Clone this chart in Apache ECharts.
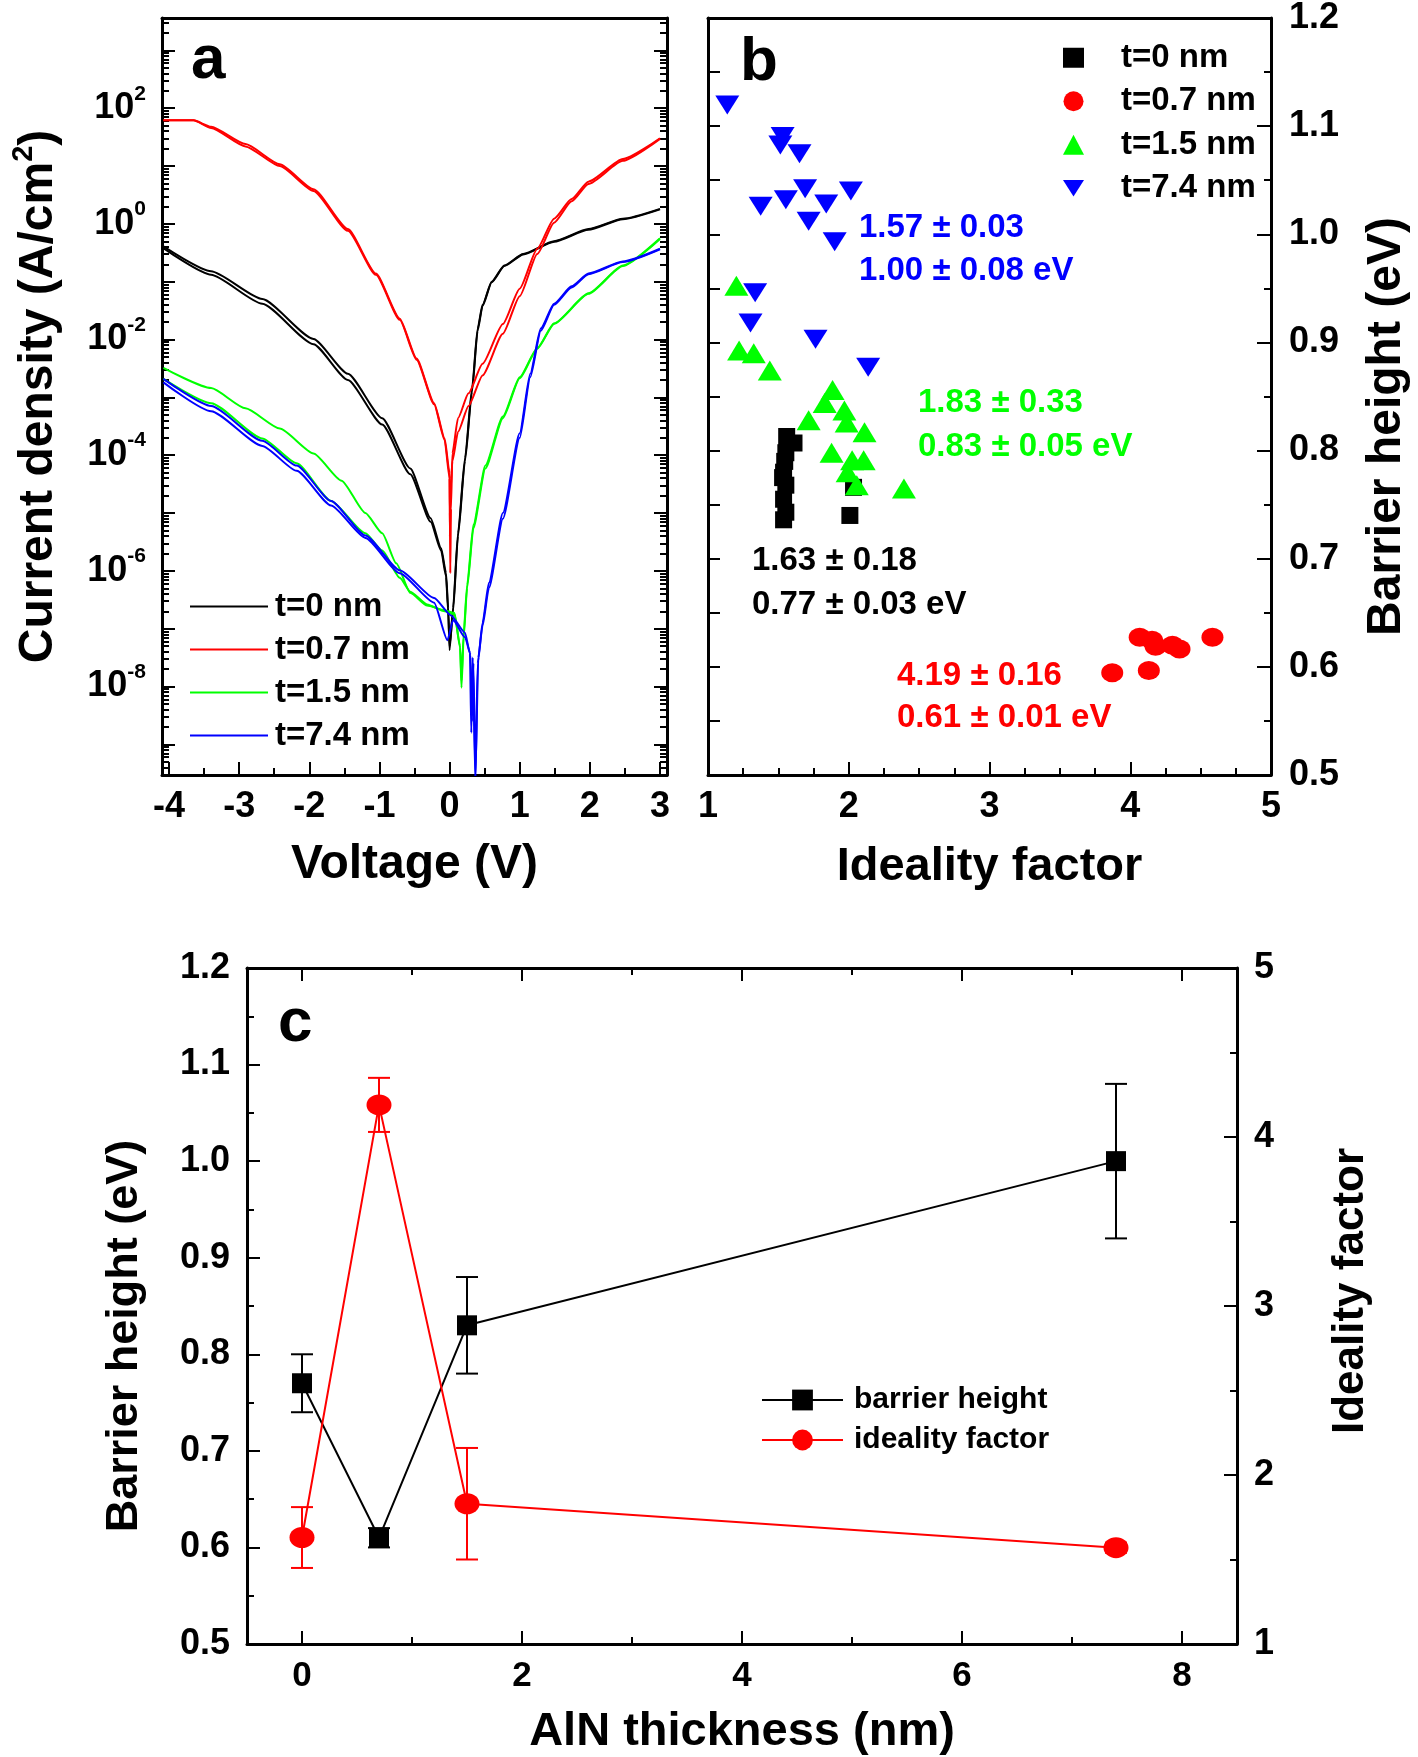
<!DOCTYPE html>
<html><head><meta charset="utf-8">
<script src="https://cdn.jsdelivr.net/npm/echarts/dist/echarts.min.js"></script>
<style>html,body{margin:0;padding:0;background:#fff}#c{width:1418px;height:1757px}</style>
</head><body><div id="c"></div><script>
const FONT = '"Liberation Sans", Arial, Helvetica, sans-serif';

// ---------- Panel a: J-V curves, [voltage (V), log10 J (A/cm^2)] ----------
const iv_t0_fwd = [[-4.08,-0.39],[-3.4,-0.82],[-2.67,-1.30],[-1.94,-1.99],[-1.45,-2.59],[-0.96,-3.36],[-0.56,-4.23],[-0.27,-5.09],[-0.12,-5.61],[-0.05,-6.04],[-0.02,-6.64],[0.0,-7.37],[0.05,-6.64],[0.12,-5.35],[0.22,-4.05],[0.32,-2.85],[0.40,-1.81],[0.47,-1.40],[0.6,-1.0],[0.78,-0.72],[1.05,-0.52],[1.49,-0.30],[1.98,-0.09],[2.47,0.09],[3.0,0.26]];
const iv_t0_rev = [[-4.08,-0.42],[-3.4,-0.88],[-2.67,-1.38],[-1.94,-2.08],[-1.45,-2.70],[-0.96,-3.47],[-0.56,-4.33],[-0.27,-5.15],[-0.12,-5.65],[-0.05,-6.1],[-0.02,-6.7],[0.0,-7.3],[0.05,-6.7],[0.12,-5.4],[0.22,-4.1],[0.32,-2.9],[0.40,-1.85],[0.47,-1.42],[0.6,-1.01],[0.78,-0.73],[1.05,-0.53],[1.49,-0.31],[1.98,-0.10],[2.47,0.08],[3.0,0.25]];
const iv_t07_fwd = [[-4.08,1.79],[-3.65,1.79],[-3.4,1.68],[-2.91,1.38],[-2.42,1.03],[-1.94,0.60],[-1.45,-0.09],[-1.05,-0.86],[-0.71,-1.64],[-0.47,-2.33],[-0.22,-3.10],[-0.07,-3.71],[0.0,-4.31],[0.005,-5.0],[0.01,-6.04],[0.02,-4.92],[0.04,-3.97],[0.12,-3.36],[0.27,-2.93],[0.47,-2.42],[0.76,-1.73],[1.0,-1.12],[1.25,-0.43],[1.49,0.09],[1.74,0.43],[1.98,0.73],[2.47,1.12],[3.0,1.48]];
const iv_t07_rev = [[-4.08,1.79],[-3.65,1.79],[-3.4,1.66],[-2.91,1.34],[-2.42,1.0],[-1.94,0.57],[-1.45,-0.12],[-1.05,-0.88],[-0.71,-1.66],[-0.47,-2.35],[-0.22,-3.12],[-0.07,-3.74],[0.0,-4.4],[0.005,-5.4],[0.015,-4.6],[0.04,-4.1],[0.12,-3.6],[0.27,-3.15],[0.47,-2.62],[0.76,-1.9],[1.0,-1.25],[1.25,-0.52],[1.49,0.02],[1.74,0.39],[1.98,0.69],[2.47,1.09],[3.0,1.47]];
const iv_t15_fwd = [[-4.08,-2.49],[-3.4,-2.84],[-2.91,-3.19],[-2.42,-3.54],[-1.94,-3.97],[-1.54,-4.44],[-1.2,-5.0],[-0.96,-5.35],[-0.76,-5.87],[-0.56,-6.38],[-0.32,-6.6],[-0.07,-6.68],[0.07,-6.73],[0.15,-7.33],[0.17,-8.02],[0.2,-7.16],[0.25,-6.3],[0.34,-5.26],[0.51,-4.23],[0.76,-3.36],[1.0,-2.67],[1.25,-2.16],[1.49,-1.73],[1.98,-1.21],[2.47,-0.73],[3.0,-0.26]];
const iv_t15_rev = [[-4.08,-2.68],[-3.4,-3.1],[-2.67,-3.71],[-2.18,-4.14],[-1.69,-4.79],[-1.2,-5.35],[-0.96,-5.65],[-0.71,-6.12],[-0.56,-6.36],[-0.32,-6.58],[-0.07,-6.7],[0.07,-6.75],[0.15,-7.3],[0.17,-7.9],[0.2,-7.1],[0.25,-6.25],[0.34,-5.2],[0.51,-4.18],[0.76,-3.33],[1.0,-2.65],[1.25,-2.15],[1.49,-1.72],[1.98,-1.2],[2.47,-0.72],[3.0,-0.25]];
const iv_t74_fwd = [[-4.08,-2.68],[-3.4,-3.15],[-2.67,-3.75],[-2.18,-4.18],[-1.69,-4.79],[-1.2,-5.39],[-0.71,-5.99],[-0.22,-6.47],[0.02,-6.77],[0.22,-7.07],[0.29,-7.42],[0.31,-8.8],[0.33,-7.5],[0.367,-9.6],[0.41,-7.5],[0.47,-6.9],[0.56,-6.21],[0.76,-5.0],[1.0,-3.62],[1.15,-2.59],[1.3,-1.81],[1.49,-1.38],[1.74,-1.08],[1.98,-0.86],[2.47,-0.65],[3.0,-0.43]];
const iv_t74_rev = [[-4.08,-2.74],[-3.4,-3.24],[-2.67,-3.84],[-2.18,-4.27],[-1.69,-4.87],[-1.2,-5.43],[-0.71,-6.04],[-0.22,-6.55],[-0.03,-7.2],[0.05,-6.85],[0.22,-7.15],[0.3,-7.45],[0.32,-8.6],[0.34,-7.6],[0.37,-9.6],[0.40,-7.6],[0.47,-6.95],[0.56,-6.3],[0.76,-5.1],[1.0,-3.7],[1.15,-2.65],[1.3,-1.85],[1.49,-1.4],[1.74,-1.1],[1.98,-0.87],[2.47,-0.66],[3.0,-0.44]];

// ---------- Panel b: [ideality factor, barrier height (eV)] ----------
const b_t0  = [[1.559,0.813],[1.611,0.807],[1.553,0.798],[1.545,0.790],[1.537,0.780],[1.530,0.775],[1.553,0.768],[1.537,0.755],[1.553,0.743],[1.537,0.736],[2.034,0.766],[2.008,0.740]];
const b_t07 = [[3.872,0.5946],[4.067,0.6273],[4.155,0.6246],[4.18,0.619],[4.132,0.5966],[4.30,0.620],[4.35,0.6165],[4.584,0.6273]];
const b_t15 = [[1.2016,0.9523],[1.221,0.8926],[1.325,0.890],[1.439,0.874],[1.715,0.828],[1.829,0.844],[1.885,0.856],[1.969,0.837],[1.985,0.826],[2.112,0.817],[1.878,0.798],[2.024,0.791],[2.106,0.791],[1.992,0.780],[2.057,0.768],[2.392,0.765]];
const b_t74 = [[1.137,1.1195],[1.53,1.0905],[1.514,1.0826],[1.65,1.0744],[1.374,1.026],[1.553,1.032],[1.69,1.042],[1.84,1.028],[2.015,1.040],[1.715,1.012],[1.90,0.993],[1.335,0.946],[1.302,0.918],[1.764,0.903],[2.138,0.877]];

// ---------- Panel c ----------
const thickness = [0, 0.7, 1.5, 7.4];
const barrier = [0.77, 0.61, 0.83, 1.00];
const barrierErr = [0.03, 0.01, 0.05, 0.08];
const ideality = [1.63, 4.19, 1.83, 1.57];
const idealityErr = [0.18, 0.16, 0.33, 0.03];

// ---------- tick values ----------
const aXMajor = [-4,-3,-2,-1,0,1,2,3];
const aXMinor = [-3.5,-2.5,-1.5,-0.5,0.5,1.5,2.5];
const aYDecades = [-9,-8,-7,-6,-5,-4,-3,-2,-1,0,1,2,3];
const aYLabels = [-8,-6,-4,-2,0,2];
const aYMin = -9.53, aYMax = 3.56;
const aYMinor = [];
[-10].concat(aYDecades).forEach(n => { for (let k = 2; k <= 9; k++) { const v = n + Math.log10(k); if (v > aYMin && v < aYMax) aYMinor.push(v); } });
const cXMajor = [0,2,4,6,8];
const cXMinor = [1,3,5,7];

const T = (size, color) => ({fontSize: size, fontWeight: 'bold', fontFamily: FONT, color: color || '#000'});
const LINE = {show: true, onZero: false, lineStyle: {color: '#000', width: 3}};
const NOLINE = {show: false, onZero: false};
const tick = (len, vals) => { const t = {show: true, inside: true, length: len, lineStyle: {color: '#000', width: 2}}; if (vals) t.customValues = vals; return t; };
const minor = (n, len) => ({show: true, splitNumber: n, length: len, lineStyle: {color: '#000', width: 2}});
const NOTICK = {show: false};
const NOLBL = {show: false};
const NOSPLIT = {show: false};
const base = {type: 'value', splitLine: NOSPLIT, nameMoveOverlap: false};
const A = o => Object.assign({}, base, o);

const xAxis = [
  // panel a
  A({gridIndex: 0, position: 'bottom', min: -4.1, max: 3.1, axisLine: LINE, axisTick: tick(13, aXMajor),
     axisLabel: Object.assign({customValues: aXMajor, margin: 14}, T(36)),
     name: 'Voltage (V)', nameLocation: 'middle', nameGap: 66, nameTextStyle: T(48)}),
  A({gridIndex: 0, position: 'bottom', min: -4.1, max: 3.1, axisLine: NOLINE, axisTick: tick(7, aXMinor), axisLabel: NOLBL}),
  A({gridIndex: 0, position: 'top', min: -4.1, max: 3.1, axisLine: LINE, axisTick: NOTICK, axisLabel: NOLBL}),
  // panel b
  A({gridIndex: 1, position: 'bottom', min: 1, max: 5, interval: 1, axisLine: LINE, axisTick: tick(13), minorTick: minor(4, 7),
     axisLabel: Object.assign({margin: 14}, T(36)),
     name: 'Ideality factor', nameLocation: 'middle', nameGap: 69, nameTextStyle: T(47)}),
  A({gridIndex: 1, position: 'top', min: 1, max: 5, axisLine: LINE, axisTick: NOTICK, axisLabel: NOLBL}),
  // panel c
  A({gridIndex: 2, position: 'bottom', min: -0.5, max: 8.5, axisLine: LINE, axisTick: tick(13, cXMajor),
     axisLabel: Object.assign({customValues: cXMajor, margin: 15}, T(35)),
     name: 'AlN thickness (nm)', nameLocation: 'middle', nameGap: 65, nameTextStyle: T(47)}),
  A({gridIndex: 2, position: 'bottom', min: -0.5, max: 8.5, axisLine: NOLINE, axisTick: tick(7, cXMinor), axisLabel: NOLBL}),
  A({gridIndex: 2, position: 'top', min: -0.5, max: 8.5, axisLine: LINE, axisTick: tick(13, cXMajor), axisLabel: NOLBL}),
  A({gridIndex: 2, position: 'top', min: -0.5, max: 8.5, axisLine: NOLINE, axisTick: tick(7, cXMinor), axisLabel: NOLBL})
];

const yAxis = [
  // panel a
  A({gridIndex: 0, position: 'left', min: aYMin, max: aYMax, axisLine: LINE, axisTick: tick(13, aYDecades),
     axisLabel: {customValues: aYLabels, margin: 16, formatter: v => '{b|10}{s|' + Math.round(v) + '}',
       rich: {b: Object.assign({verticalAlign: 'middle'}, T(36)), s: Object.assign({verticalAlign: 'bottom', padding: [0, 0, 29, 0]}, T(21))}},
     name: 'Current density (A/cm{s|2})', nameLocation: 'middle', nameGap: 93,
     nameTextStyle: Object.assign({rich: {s: Object.assign({verticalAlign: 'bottom', padding: [0, 0, 31, 0]}, T(29))}}, T(48))}),
  A({gridIndex: 0, position: 'left', min: aYMin, max: aYMax, axisLine: NOLINE, axisTick: tick(7, aYMinor), axisLabel: NOLBL}),
  A({gridIndex: 0, position: 'right', min: aYMin, max: aYMax, axisLine: LINE, axisTick: tick(13, aYDecades), axisLabel: NOLBL}),
  A({gridIndex: 0, position: 'right', min: aYMin, max: aYMax, axisLine: NOLINE, axisTick: tick(7, aYMinor), axisLabel: NOLBL}),
  // panel b
  A({gridIndex: 1, position: 'left', min: 0.5, max: 1.2, interval: 0.05, axisLine: LINE, axisTick: tick(12), axisLabel: NOLBL}),
  A({gridIndex: 1, position: 'right', min: 0.5, max: 1.2, interval: 0.1, axisLine: LINE, axisTick: tick(14), minorTick: minor(2, 7),
     axisLabel: Object.assign({margin: 18, formatter: v => v.toFixed(1)}, T(36)),
     name: 'Barrier height (eV)', nameLocation: 'middle', nameGap: 92,
     nameTextStyle: Object.assign({padding: [0, 60, 0, 0]}, T(48))}),
  // panel c
  A({gridIndex: 2, position: 'left', min: 0.5, max: 1.2, interval: 0.1, axisLine: LINE, axisTick: tick(13), minorTick: minor(2, 7),
     axisLabel: Object.assign({margin: 17, formatter: v => v.toFixed(1)}, T(36)),
     name: 'Barrier height (eV)', nameLocation: 'middle', nameGap: 100,
     nameTextStyle: Object.assign({padding: [0, 60, 0, 0]}, T(45))}),
  A({gridIndex: 2, position: 'right', min: 1, max: 5, interval: 1, axisLine: LINE, axisTick: tick(13), minorTick: minor(2, 7),
     axisLabel: Object.assign({margin: 17}, T(36)),
     name: 'Ideality factor', nameLocation: 'middle', nameGap: 92,
     nameTextStyle: Object.assign({padding: [0, 0, 0, 30]}, T(44))})
];

const ivLine = (name, data, color) => ({type: 'line', name, xAxisIndex: 0, yAxisIndex: 0, data, symbol: 'none', clip: true,
  smooth: 0.2, smoothMonotone: 'x', lineStyle: {color, width: 2}, itemStyle: {color}});
const sc = (name, data, color, symbol, size) => ({type: 'scatter', name, xAxisIndex: 3, yAxisIndex: 5, data, symbol, symbolSize: size,
  itemStyle: {color, opacity: 1}});
const DOWN = 'path://M0,0 L24,0 L12,19 Z';

function errorBars(name, xs, ys, es, color, yi) {
  return {type: 'custom', name, xAxisIndex: 5, yAxisIndex: yi, z: 1, silent: true,
    data: xs.map((x, i) => [x, ys[i] - es[i], ys[i] + es[i]]), encode: {x: 0, y: [1, 2]},
    renderItem: (params, api) => {
      const x = api.value(0);
      const p = api.coord([x, api.value(1)]), q = api.coord([x, api.value(2)]);
      const w = 11, st = {stroke: color, lineWidth: 2};
      return {type: 'group', children: [
        {type: 'line', shape: {x1: p[0], y1: p[1], x2: q[0], y2: q[1]}, style: st},
        {type: 'line', shape: {x1: p[0] - w, y1: p[1], x2: p[0] + w, y2: p[1]}, style: st},
        {type: 'line', shape: {x1: q[0] - w, y1: q[1], x2: q[0] + w, y2: q[1]}, style: st}]};
    }};
}

const series = [
  ivLine('t=0 nm', iv_t0_fwd, '#000000'), ivLine('t=0 nm', iv_t0_rev, '#000000'),
  ivLine('t=0.7 nm', iv_t07_fwd, '#ff0000'), ivLine('t=0.7 nm', iv_t07_rev, '#ff0000'),
  ivLine('t=1.5 nm', iv_t15_fwd, '#00ff00'), ivLine('t=1.5 nm', iv_t15_rev, '#00ff00'),
  ivLine('t=7.4 nm', iv_t74_fwd, '#0000ff'), ivLine('t=7.4 nm', iv_t74_rev, '#0000ff'),
  sc('b: t=0 nm', b_t0, '#000000', 'rect', 17),
  sc('b: t=0.7 nm', b_t07, '#ff0000', 'circle', [22, 19]),
  sc('b: t=1.5 nm', b_t15, '#00ff00', 'triangle', [24, 20]),
  sc('b: t=7.4 nm', b_t74, '#0000ff', DOWN, [24, 19]),
  errorBars('bh err', thickness, barrier, barrierErr, '#000000', 6),
  errorBars('if err', thickness, ideality, idealityErr, '#ff0000', 7),
  {type: 'line', name: 'barrier height', xAxisIndex: 5, yAxisIndex: 6, z: 3, data: thickness.map((x, i) => [x, barrier[i]]),
   symbol: 'rect', symbolSize: 20, lineStyle: {color: '#000', width: 2}, itemStyle: {color: '#000'}},
  {type: 'line', name: 'ideality factor', xAxisIndex: 5, yAxisIndex: 7, z: 4, data: thickness.map((x, i) => [x, ideality[i]]),
   symbol: 'circle', symbolSize: [25, 21], lineStyle: {color: '#ff0000', width: 2}, itemStyle: {color: '#ff0000'}}
];

const legend = [
  {data: ['t=0 nm', 't=0.7 nm', 't=1.5 nm', 't=7.4 nm'], icon: 'rect', orient: 'vertical', left: 185, top: 580, itemWidth: 78, itemHeight: 2,
   itemGap: 0, selectedMode: false, textStyle: Object.assign({lineHeight: 43, padding: [0, 0, 0, 2]}, T(33))},
  {data: [{name: 'b: t=0 nm', icon: 'rect'}, {name: 'b: t=0.7 nm', icon: 'circle'}, {name: 'b: t=1.5 nm', icon: 'triangle'}, {name: 'b: t=7.4 nm', icon: DOWN}],
   formatter: n => n.replace('b: ', ''), orient: 'vertical',
   left: 1058, top: 31, itemWidth: 21, itemHeight: 20, itemGap: 0, selectedMode: false,
   textStyle: Object.assign({lineHeight: 43.5, padding: [0, 0, 0, 32]}, T(33))},
  {data: ['barrier height', 'ideality factor'], orient: 'vertical', left: 756, top: 1375, itemWidth: 81, itemHeight: 26,
   itemGap: 0, selectedMode: false, textStyle: Object.assign({lineHeight: 40, padding: [0, 0, 0, 6]}, T(30))}
];

const gt = (text, x, y, size, color) => ({type: 'text', x, y, z: 100, silent: true,
  style: {text, font: 'bold ' + size + 'px ' + FONT, fill: color, verticalAlign: 'middle', align: 'left'}});

const graphic = [
  gt('a', 191, 61, 62, '#000'), gt('b', 740, 63, 62, '#000'), gt('c', 278, 1024, 62, '#000'),
  gt('1.57 ± 0.03', 859, 228, 33, '#0000ff'), gt('1.00 ± 0.08 eV', 859, 271, 33, '#0000ff'),
  gt('1.83 ± 0.33', 918, 403, 33, '#00ff00'), gt('0.83 ± 0.05 eV', 918, 447, 33, '#00ff00'),
  gt('1.63 ± 0.18', 752, 561, 33, '#000000'), gt('0.77 ± 0.03 eV', 752, 605, 33, '#000000'),
  gt('4.19 ± 0.16', 897, 676, 33, '#ff0000'), gt('0.61 ± 0.01 eV', 897, 718, 33, '#ff0000')
];

const chart = echarts.init(document.getElementById('c'), null, {renderer: 'canvas', width: 1418, height: 1757});
chart.setOption({
  animation: false,
  backgroundColor: '#ffffff',
  grid: [
    {left: 162, top: 18, width: 505, height: 757, containLabel: false, outerBoundsMode: 'none'},
    {left: 708, top: 18, width: 563, height: 757, containLabel: false, outerBoundsMode: 'none'},
    {left: 247, top: 968, width: 990, height: 676, containLabel: false, outerBoundsMode: 'none'}
  ],
  xAxis, yAxis, series, legend, graphic
});
</script></body></html>
